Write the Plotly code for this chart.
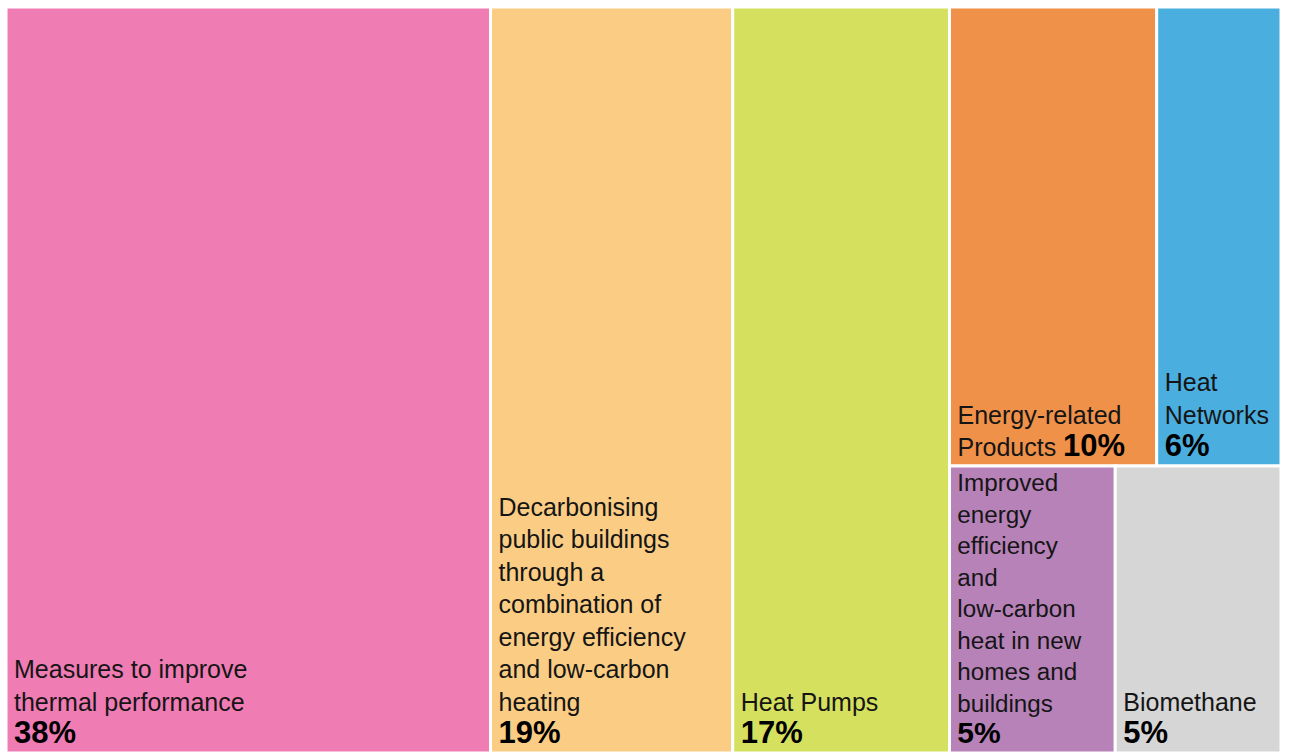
import plotly.graph_objects as go

# Data
categories = [
    "Measures to improve thermal performance",
    "Decarbonising public buildings through a combination of energy efficiency and low-carbon heating",
    "Heat Pumps",
    "Energy-related Products",
    "Heat Networks",
    "Improved energy efficiency and low-carbon heat in new homes and buildings",
    "Biomethane",
]
shares = [38, 19, 17, 10, 6, 5, 5]
display_lines = [
    ["Measures to improve", "thermal performance"],
    ["Decarbonising", "public buildings", "through a", "combination of",
     "energy efficiency", "and low-carbon", "heating"],
    ["Heat Pumps"],
    ["Energy-related", "Products"],
    ["Heat", "Networks"],
    ["Improved", "energy", "efficiency", "and", "low-carbon", "heat in new",
     "homes and", "buildings"],
    ["Biomethane"],
]
inline_pct = [False, False, False, True, False, False, False]
colors = ["#F07CB4", "#FBCD84", "#D5E05F", "#F0914A", "#4AAEDF", "#B682B8", "#D6D6D6"]
# grouping (right column split into two rows)
groups = ["", "", "", "row1", "row1", "row2", "row2"]

ids, parents, labels, values, texts, node_colors = [], [], [], [], [], []
IND = "\u2009"

def add_node(i):
    pct = f"<span style='font-size:31px;color:#000'><b>{shares[i]}%</b></span>"
    lines = [IND + ln for ln in display_lines[i]]
    if inline_pct[i]:
        lines[-1] = lines[-1] + " " + pct
    else:
        lines.append(IND + pct)
    ids.append(f"leaf{i}")
    parents.append(groups[i])
    labels.append(categories[i])
    values.append(shares[i])
    texts.append("<br>".join(lines))
    node_colors.append(colors[i])

def add_group(gid, parent):
    ids.append(gid)
    parents.append(parent)
    labels.append(" ")
    values.append(0)
    texts.append("")
    node_colors.append("white")

for i in range(3):
    add_node(i)
add_group("col", "")
add_group("row1", "col")
add_group("row2", "col")
for i in range(3, 7):
    add_node(i)

fig = go.Figure(go.Treemap(
    ids=ids,
    parents=parents,
    labels=labels,
    values=values,
    text=texts,
    branchvalues="remainder",
    sort=False,
    textinfo="text",
    textposition="bottom left",
    marker=dict(colors=node_colors, line=dict(color="white", width=3),
                pad=dict(t=0, l=0, r=0, b=0)),
    tiling=dict(packing="slice-dice", pad=0),
    pathbar=dict(visible=False),
    textfont=dict(family="Liberation Sans, Arial, sans-serif", size=25, color="#151515"),
    hoverinfo="skip",
))

fig.update_layout(
    width=1290, height=753,
    margin=dict(l=6, r=9, t=7, b=0),
    paper_bgcolor="white",
)

fig.write_html("out.html", config={"displayModeBar": False},
               post_script="document.body.style.margin='0';document.body.style.overflow='hidden';")
